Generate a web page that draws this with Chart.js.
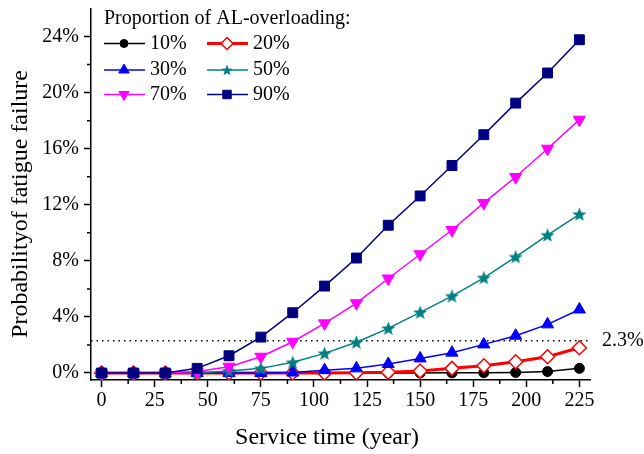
<!DOCTYPE html>
<html lang="en">
<head>
    <meta charset="UTF-8">
    <title>Probability of fatigue failure</title>
    <script src="https://cdn.jsdelivr.net/npm/chart.js@4.4.0/dist/chart.umd.min.js"></script>
    <style>
        body {
            margin: 0;
            padding: 0;
            background-color: #ffffff;
        }
        .chart-box {
            width: 644px;
            height: 454px;
            position: relative;
        }
    </style>
</head>
<body>
    <div class="chart-box">
        <canvas id="fatigueChart"></canvas>
    </div>

    <script>
        // Service time (year)
        const years = [0, 15, 30, 45, 60, 75, 90, 105, 120, 135, 150, 165, 180, 195, 210, 225];

        // Probability of fatigue failure (%) per AL-overloading proportion
        const p10 = [0, 0, 0, 0, 0, 0, 0, 0, 0, 0, 0, 0.01, 0.02, 0.04, 0.1, 0.33];
        const p20 = [0, 0, 0, 0, 0, 0, 0, 0, 0.02, 0.05, 0.14, 0.33, 0.52, 0.8, 1.16, 1.8];
        const p30 = [0, 0, 0, 0, 0, 0, 0.03, 0.2, 0.33, 0.64, 1.04, 1.45, 2.04, 2.66, 3.47, 4.53];
        const p50 = [0, 0, 0, 0, 0.14, 0.33, 0.76, 1.4, 2.19, 3.18, 4.32, 5.48, 6.79, 8.28, 9.83, 11.32];
        const p70 = [0, 0, 0, 0.1, 0.45, 1.16, 2.23, 3.54, 4.98, 6.74, 8.47, 10.2, 12.13, 13.98, 16.0, 18.07];
        const p90 = [0, 0, 0, 0.33, 1.23, 2.56, 4.3, 6.2, 8.2, 10.54, 12.63, 14.8, 17.0, 19.25, 21.4, 23.77];

        const seriesLabels = ['10%', '20%', '30%', '50%', '70%', '90%'];
        const thresholdValue = 2.3;
        const thresholdLabel = '2.3%';
        const legendTitle = 'Proportion of AL-overloading:';
        const xTitle = 'Service time (year)';
        const yTitle = 'Probabilityof fatigue failure';

        const serif = '"Liberation Serif", "Times New Roman", serif';

        // estrella rellena para la serie 50%
        function makeStar(color, size) {
            const c = document.createElement('canvas');
            c.width = size * 2 + 2;
            c.height = size * 2 + 2;
            const g = c.getContext('2d');
            const m = size + 1;
            g.beginPath();
            for (let i = 0; i < 10; i++) {
                const r = i % 2 === 0 ? size : size * 0.42;
                const a = -Math.PI / 2 + i * Math.PI / 5;
                const px = m + r * Math.cos(a);
                const py = m + 0.5 + r * Math.sin(a);
                if (i === 0) g.moveTo(px, py); else g.lineTo(px, py);
            }
            g.closePath();
            g.fillStyle = color;
            g.fill();
            return c;
        }
        const starImg = makeStar('#008080', 7.5);
        const starSmall = makeStar('#008080', 6);

        function toXY(values) {
            return values.map((v, i) => ({ x: years[i], y: v }));
        }

        const styles = [
            { color: '#000000', bg: '#000000', width: 1.5, point: 'circle', radius: 5, rot: 0, pbw: 1 },
            { color: '#ff0000', bg: '#ffffff', width: 3, point: 'rectRot', radius: 7, rot: 0, pbw: 1.5 },
            { color: '#0000ff', bg: '#0000ff', width: 1.5, point: 'triangle', radius: 7, rot: 0, pbw: 1 },
            { color: '#008080', bg: '#008080', width: 1.5, point: starImg, radius: 7, rot: 0, pbw: 1 },
            { color: '#ff00ff', bg: '#ff00ff', width: 1.5, point: 'triangle', radius: 7, rot: 180, pbw: 1 },
            { color: '#000080', bg: '#000080', width: 1.5, point: 'rect', radius: 7, rot: 0, pbw: 1 }
        ];
        const allSeries = [p10, p20, p30, p50, p70, p90];

        const datasets = allSeries.map((vals, i) => ({
            label: seriesLabels[i],
            data: toXY(vals),
            borderColor: styles[i].color,
            backgroundColor: styles[i].bg,
            borderWidth: styles[i].width,
            pointStyle: styles[i].point,
            pointRadius: styles[i].radius,
            pointRotation: styles[i].rot,
            pointBorderColor: styles[i].color,
            pointBackgroundColor: styles[i].bg,
            pointBorderWidth: styles[i].pbw,
            tension: 0,
            order: allSeries.length - i
        }));

        // línea punteada, ticks menores, títulos y leyenda
        const decorPlugin = {
            id: 'decor',
            beforeDatasetsDraw(chart) {
                const { ctx, chartArea, scales } = chart;
                const y = scales.y.getPixelForValue(thresholdValue);
                ctx.save();
                ctx.strokeStyle = '#000';
                ctx.lineWidth = 1.5;
                ctx.setLineDash([1.5, 4]);
                ctx.beginPath();
                ctx.moveTo(chartArea.left, y);
                ctx.lineTo(chartArea.right, y);
                ctx.stroke();
                ctx.restore();
            },
            afterDraw(chart) {
                const { ctx, chartArea, scales } = chart;
                ctx.save();
                // ticks menores
                ctx.strokeStyle = '#000';
                ctx.lineWidth = 1.5;
                ctx.beginPath();
                for (let v = 12.5; v < scales.x.max; v += 25) {
                    const px = scales.x.getPixelForValue(v);
                    ctx.moveTo(px, chartArea.bottom);
                    ctx.lineTo(px, chartArea.bottom + 4);
                }
                for (let v = 2; v < scales.y.max; v += 4) {
                    const py = scales.y.getPixelForValue(v);
                    ctx.moveTo(chartArea.left, py);
                    ctx.lineTo(chartArea.left - 4, py);
                }
                ctx.stroke();

                // títulos de ejes
                ctx.fillStyle = '#000';
                ctx.textAlign = 'center';
                ctx.textBaseline = 'middle';
                ctx.font = '24px ' + serif;
                ctx.fillText(xTitle, 327, 438);
                ctx.save();
                ctx.translate(21, 204);
                ctx.rotate(-Math.PI / 2);
                ctx.fillText(yTitle, 0, 0);
                ctx.restore();

                // etiqueta 2.3%
                ctx.font = '20px ' + serif;
                ctx.textAlign = 'left';
                ctx.fillText(thresholdLabel, chartArea.right + 12, scales.y.getPixelForValue(thresholdValue));

                // leyenda
                ctx.fillText(legendTitle, 104, 19);
                const colX = [104, 207];
                const rowY = [43.5, 70, 94.5];
                chart.data.datasets.forEach((ds, i) => {
                    const cx = colX[i % 2];
                    const cy = rowY[Math.floor(i / 2)];
                    ctx.strokeStyle = ds.borderColor;
                    ctx.lineWidth = ds.borderWidth;
                    ctx.setLineDash([]);
                    ctx.beginPath();
                    ctx.moveTo(cx, cy);
                    ctx.lineTo(cx + 41, cy);
                    ctx.stroke();
                    ctx.fillStyle = ds.pointBackgroundColor;
                    ctx.strokeStyle = ds.pointBorderColor;
                    ctx.lineWidth = ds.pointBorderWidth;
                    if (Chart.helpers && Chart.helpers.drawPoint) {
                        Chart.helpers.drawPoint(ctx, {
                            pointStyle: ds.pointStyle === starImg ? starSmall : ds.pointStyle,
                            radius: ds.pointRadius - 1,
                            rotation: ds.pointRotation,
                            borderWidth: ds.pointBorderWidth
                        }, cx + 20, cy);
                    }
                    ctx.fillStyle = '#000';
                    ctx.fillText(ds.label, cx + 46, cy);
                });
                ctx.restore();
            }
        };

        const ctx = document.getElementById('fatigueChart').getContext('2d');
        new Chart(ctx, {
            type: 'line',
            data: { datasets: datasets },
            options: {
                responsive: true,
                maintainAspectRatio: false,
                animation: false,
                layout: {
                    padding: { top: 7, right: 54, left: 0, bottom: 0 }
                },
                plugins: {
                    legend: { display: false },
                    tooltip: { enabled: false }
                },
                scales: {
                    x: {
                        type: 'linear',
                        min: -5,
                        max: 230,
                        afterFit(scale) {
                            scale.height = 74;
                            scale.paddingLeft = 0;
                            scale.paddingRight = 0;
                        },
                        border: { color: '#000', width: 1.5 },
                        grid: { drawOnChartArea: false, tickLength: 7, tickColor: '#000', tickWidth: 1.5 },
                        ticks: {
                            stepSize: 25,
                            includeBounds: false,
                            maxRotation: 0,
                            color: '#000',
                            padding: 2,
                            font: { family: serif, size: 20 }
                        }
                    },
                    y: {
                        min: -0.5,
                        max: 26,
                        afterFit(scale) {
                            scale.width = 91;
                            scale.paddingTop = 0;
                            scale.paddingBottom = 0;
                        },
                        border: { color: '#000', width: 1.5 },
                        grid: { drawOnChartArea: false, tickLength: 7, tickColor: '#000', tickWidth: 1.5 },
                        ticks: {
                            stepSize: 4,
                            includeBounds: false,
                            color: '#000',
                            padding: 5,
                            font: { family: serif, size: 20 },
                            callback: v => v + '%'
                        }
                    }
                }
            },
            plugins: [decorPlugin]
        });
    </script>
</body>
</html>
